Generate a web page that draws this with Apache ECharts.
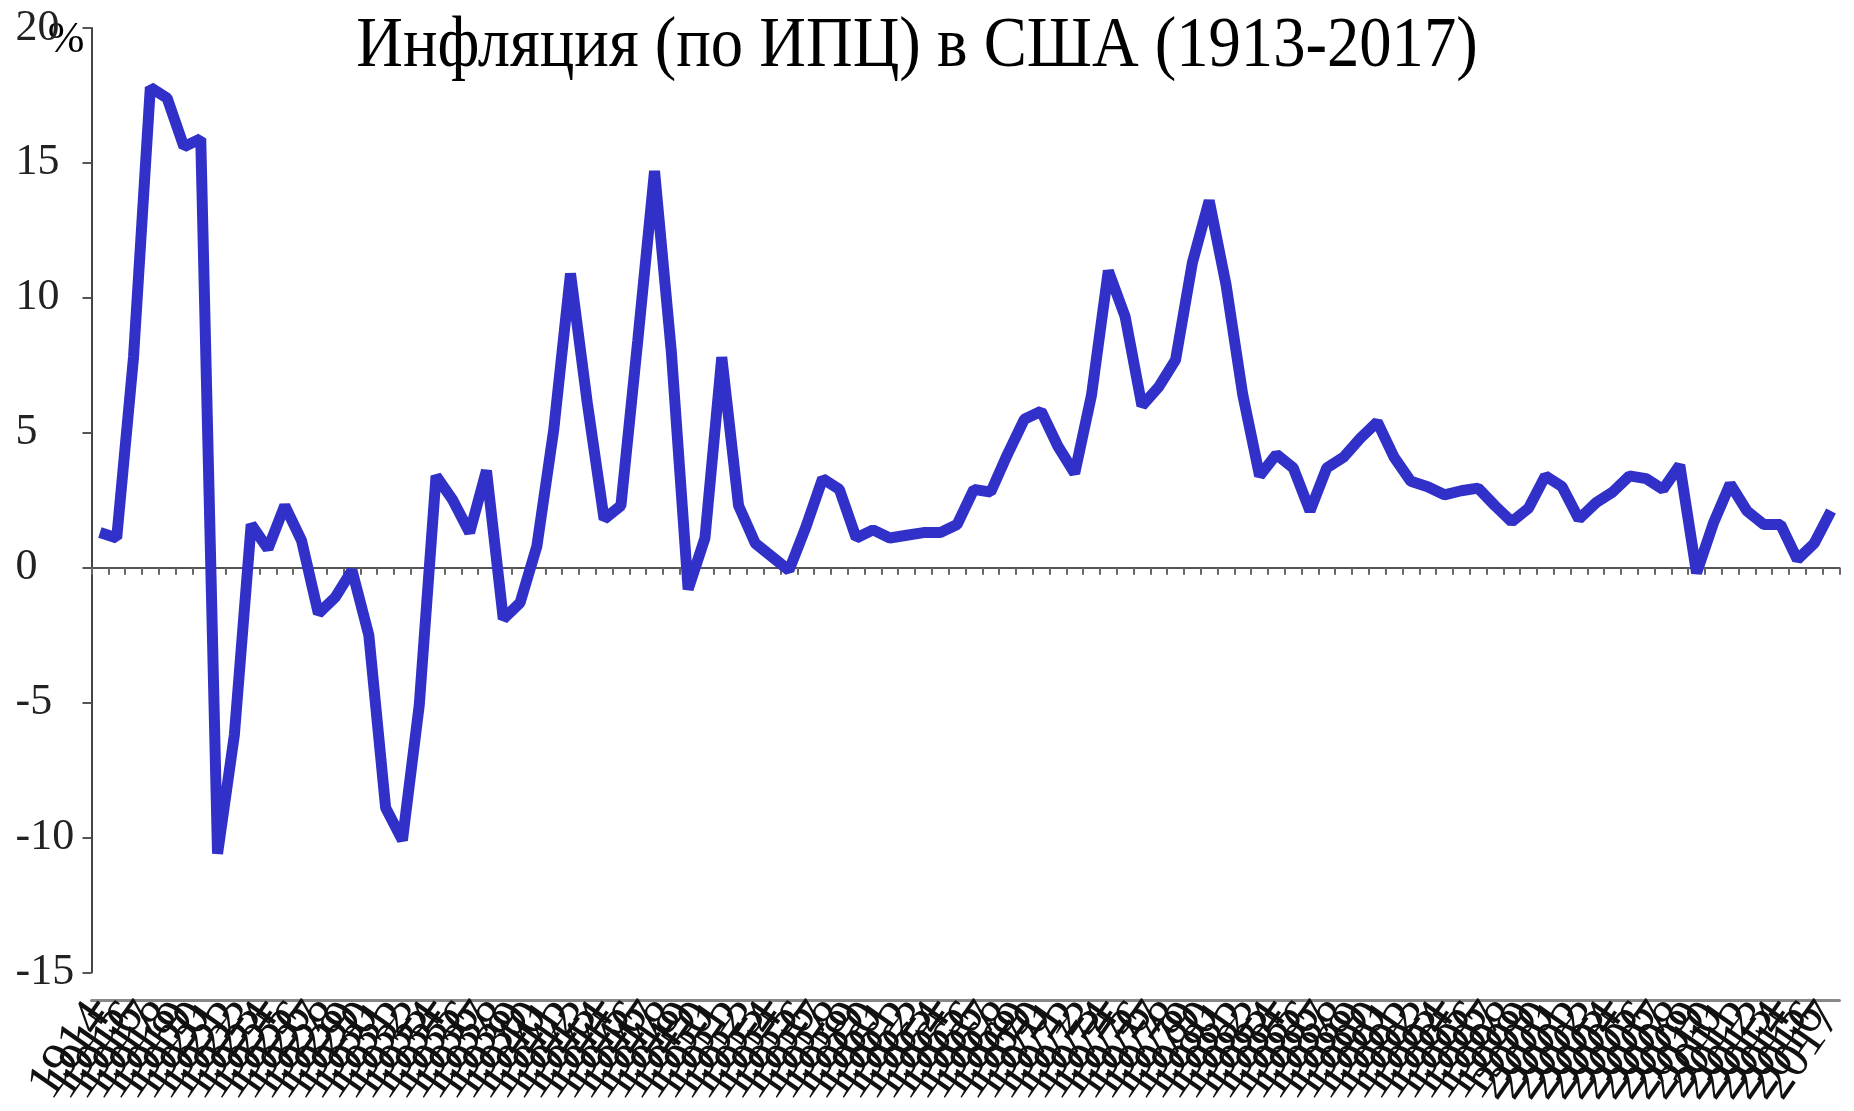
<!DOCTYPE html>
<html>
<head>
<meta charset="utf-8">
<script src="https://cdn.jsdelivr.net/npm/echarts/dist/echarts.min.js"></script>
<style>
html,body{margin:0;padding:0;background:#fff;}
#chart{width:1854px;height:1111px;}
</style>
</head>
<body>
<div id="chart"></div>
<script>
const titleText = 'Инфляция (по ИПЦ) в США (1913-2017)';
const unitText = '%';
const years = [];
for (let y = 1914; y <= 2017; y++) years.push(String(y));
const inflation = [
  1.3, 1.1, 7.8, 17.8, 17.4, 15.6, 15.9, -10.6, -6.2, 1.6,
  0.7, 2.3, 1.0, -1.7, -1.1, -0.1, -2.5, -8.9, -10.1, -5.1,
  3.4, 2.5, 1.3, 3.6, -1.9, -1.3, 0.8, 5.1, 10.9, 6.1,
  1.8, 2.3, 8.4, 14.7, 8.0, -0.8, 1.1, 7.8, 2.3, 0.9,
  0.4, -0.1, 1.5, 3.3, 2.9, 1.1, 1.4, 1.1, 1.2, 1.3,
  1.3, 1.6, 2.9, 2.8, 4.2, 5.5, 5.8, 4.5, 3.5, 6.4,
  11.0, 9.3, 6.0, 6.7, 7.7, 11.3, 13.6, 10.5, 6.4, 3.4,
  4.2, 3.7, 2.1, 3.7, 4.1, 4.8, 5.4, 4.1, 3.2, 3.0,
  2.7, 2.85, 2.95, 2.3, 1.7, 2.2, 3.4, 3.0, 1.8, 2.4,
  2.8, 3.4, 3.3, 2.9, 3.8, -0.2, 1.65, 3.1, 2.1, 1.6,
  1.6, 0.3, 0.9, 2.1
];
const yMin = -15, yMax = 20, yStep = 5;

const serif = '"Liberation Serif", "DejaVu Serif", serif';
const chart = echarts.init(document.getElementById('chart'));
chart.setOption({
  backgroundColor: '#ffffff',
  animation: false,
  grid: {left: 91.5, right: 4, top: 28, height: 946, containLabel: false},
  xAxis: [
    {
      type: 'category', data: years, boundaryGap: true, position: 'bottom',
      axisLine: {onZero: true, lineStyle: {color: '#555', width: 2}},
      axisTick: {show: true, interval: 0, length: 7, lineStyle: {color: '#666', width: 2}},
      axisLabel: {show: false},
      splitLine: {show: false}
    },
    {
      type: 'category', data: years, boundaryGap: true, position: 'bottom', offset: 28,
      axisLine: {onZero: false, show: true, lineStyle: {color: '#888', width: 3}},
      axisTick: {show: false},
      axisLabel: {show: true, interval: 0, rotate: 55, margin: 8,
        fontFamily: serif, fontSize: 52, color: '#111'},
      splitLine: {show: false}
    }
  ],
  yAxis: {
    type: 'value', min: yMin, max: yMax, interval: yStep,
    axisLine: {show: true, lineStyle: {color: '#444', width: 2}},
    axisTick: {show: true, length: 9, lineStyle: {color: '#555', width: 2}},
    axisLabel: {align: 'left', margin: 76, fontFamily: serif, fontSize: 44, color: '#222'},
    splitLine: {show: false}
  },
  graphic: [
    {type: 'text', x: 917, y: 47, scaleX: 0.91,
      style: {text: titleText, font: '71px ' + serif, fill: '#000', align: 'center', verticalAlign: 'middle'}},
    {type: 'text', x: 66, y: 40,
      style: {text: unitText, font: '44px ' + serif, fill: '#000', align: 'center', verticalAlign: 'middle'}}
  ],
  series: [{
    type: 'line', data: inflation, xAxisIndex: 0, yAxisIndex: 0,
    symbol: 'none', smooth: false,
    lineStyle: {color: '#3131c9', width: 11, join: 'bevel'}
  }]
});
</script>
</body>
</html>
